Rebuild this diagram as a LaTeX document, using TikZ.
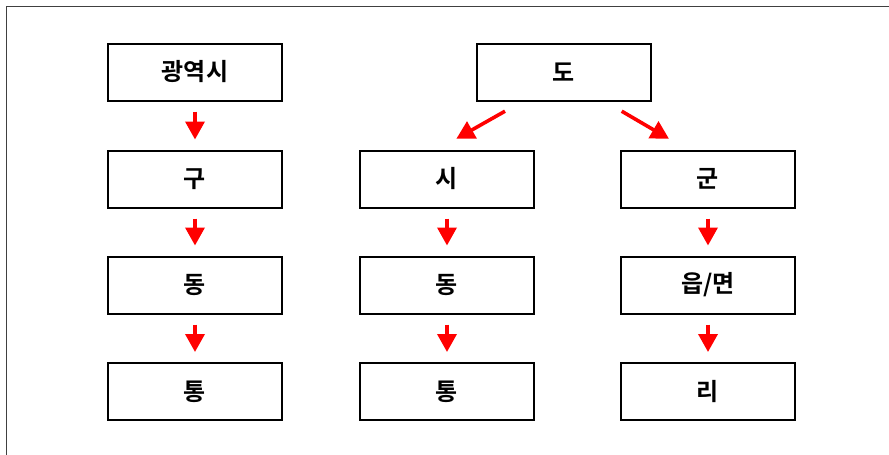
\documentclass[tikz,border=0pt]{standalone}
\usepackage{fontspec}
\setmainfont{Liberation Sans}
\newfontfamily\krfont{Noto Sans CJK KR}[BoldFont=* Bold]
\usetikzlibrary{arrows.meta}
\begin{document}
\begin{tikzpicture}[x=1pt,y=-1pt,
  unit/.style={draw=black, line width=2pt, minimum width=174pt, minimum height=57pt,
    inner sep=0pt, font=\krfont\bfseries\fontsize{24}{24}\selectfont},
  arr/.style={draw=red, line width=3.6pt,
    -{Triangle[length=18pt,width=19pt,fill=red]}, shorten <=10pt, shorten >=10pt}]
  \useasboundingbox (0,0) rectangle (889,455);
  % frame lines along the top and left edges
  \draw[line width=1.5pt, draw=black!75] (889,6.5) -- (6.5,6.5) -- (6.5,455);

  % metropolitan city column
  \node[unit] (gwang) at (195,72) {광역시};
  \node[unit] (gu)    at (195,179) {구};
  \node[unit] (dong1) at (195,285) {동};
  \node[unit] (tong1) at (195,391.5) {통};

  % province and its branches
  \node[unit] (do)    at (563.5,72) {도};
  \node[unit] (si)    at (447,179) {시};
  \node[unit] (dong2) at (447,285) {동};
  \node[unit] (tong2) at (447,391.5) {통};
  \node[unit] (gun)   at (708,179) {군};
  \node[unit] (eup)   at (708,285) {읍/면};
  \node[unit] (ri)    at (708,391.5) {리};

  \draw[arr] (gwang.south) -- (gu.north);
  \draw[arr] (gu.south) -- (dong1.north);
  \draw[arr] (dong1.south) -- (tong1.north);

  \draw[arr, shorten <=0pt, shorten >=0pt]
    ([xshift=-58.5pt,yshift=-9.7pt]do.south) -- ([xshift=97.3pt,yshift=10.7pt]si.north west);
  \draw[arr, shorten <=0pt, shorten >=0pt]
    ([xshift=58.2pt,yshift=-9.7pt]do.south) -- ([xshift=49pt,yshift=10.7pt]gun.north west);

  \draw[arr] (si.south) -- (dong2.north);
  \draw[arr] (dong2.south) -- (tong2.north);
  \draw[arr] (gun.south) -- (eup.north);
  \draw[arr] (eup.south) -- (ri.north);
\end{tikzpicture}
\end{document}
